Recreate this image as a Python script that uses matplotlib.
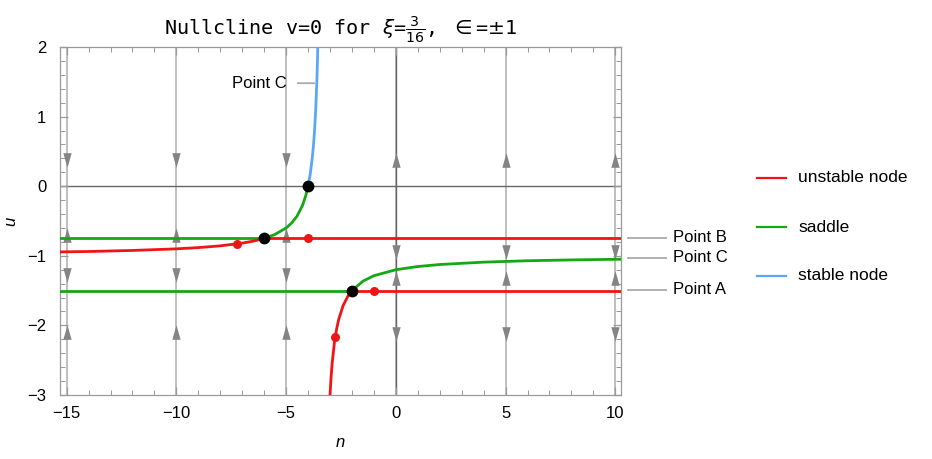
import matplotlib
matplotlib.use("Agg")
import matplotlib.pyplot as plt
from matplotlib.path import Path
from matplotlib.ticker import MultipleLocator

# nullcline branches (n, u)
left_n = [-15.3, -14, -12, -10, -9, -8, -7, -6.5, -6]
left_u = [-0.944, -0.938, -0.923, -0.900, -0.882, -0.857, -0.818, -0.789, -0.75]
mid_n = [-6, -5.5, -5, -4.75, -4.5, -4.25, -4.1, -4]
mid_u = [-0.75, -0.692, -0.600, -0.529, -0.429, -0.273, -0.130, 0.0]
top_n = [-4, -3.9, -3.8, -3.75, -3.7, -3.65, -3.6, -3.58, -3.556]
top_u = [0.0, 0.176, 0.429, 0.600, 0.818, 1.105, 1.500, 1.70, 2.0]
low_n = [-3.0, -2.95, -2.9, -2.8, -2.7, -2.6, -2.4, -2.2, -2.0]
low_u = [-3.0, -2.739, -2.538, -2.250, -2.053, -1.909, -1.714, -1.588, -1.5]
right_n = [-2, -1.5, -1, 0, 1, 2, 4, 6, 8, 10.3]
right_u = [-1.5, -1.364, -1.286, -1.2, -1.154, -1.125, -1.091, -1.071, -1.059, -1.049]

line_b = -0.75
line_a = -1.5
split_b = -6
split_a = -2

black_n = [-6, -4, -2]
black_u = [-0.75, 0, -1.5]
red_n = [-7.25, -4, -1, -2.76]
red_u = [-0.83, -0.75, -1.5, -2.16]

stream_n = [-15, -10, -5, 0, 5, 10]
arrows_left = [(0.37, -1), (-0.70, 1), (-1.28, -1), (-2.10, 1)]
arrows_right = [(0.37, 1), (-0.95, -1), (-1.32, 1), (-2.12, -1)]

RED = "#f01414"
GREEN = "#14a814"
BLUE = "#5aa8f5"
GREY = "#9a9a9a"

plt.rcParams["font.family"] = ["Liberation Sans", "DejaVu Sans"]

fig = plt.figure(figsize=(9.32, 4.59), dpi=100)
ax = fig.add_axes([0.0644, 0.1394, 0.6022, 0.7582])
xmin, xmax = -15.3, 10.27
ax.set_xlim(xmin, xmax)
ax.set_ylim(-3, 2)

down = Path([(-0.4, 0.7), (0.4, 0.7), (0, -0.7), (-0.4, 0.7)],
            [Path.MOVETO, Path.LINETO, Path.LINETO, Path.CLOSEPOLY])
up = Path([(-0.4, -0.7), (0.4, -0.7), (0, 0.7), (-0.4, -0.7)],
          [Path.MOVETO, Path.LINETO, Path.LINETO, Path.CLOSEPOLY])

for n in stream_n:
    ax.axvline(n, color="#adadad", lw=1.1, zorder=1)
    arrows = arrows_left if n < 0 else arrows_right
    for u, d in arrows:
        ax.plot([n], [u], marker=up if d > 0 else down, ms=10.5,
                color="#848484", mec="none", zorder=2)

ax.axhline(0, color="#666666", lw=1.0, zorder=1.5)
ax.axvline(0, color="#666666", lw=1.0, zorder=1.5)

lw = 2.0
ax.plot([xmin, split_b], [line_b, line_b], color=GREEN, lw=lw, zorder=3)
ax.plot([split_b, xmax], [line_b, line_b], color=RED, lw=lw, zorder=3)
ax.plot([xmin, split_a], [line_a, line_a], color=GREEN, lw=lw, zorder=3)
ax.plot([split_a, xmax], [line_a, line_a], color=RED, lw=lw, zorder=3)
ax.plot(left_n, left_u, color=RED, lw=lw, zorder=3)
ax.plot(mid_n, mid_u, color=GREEN, lw=lw, zorder=3)
ax.plot(top_n, top_u, color=BLUE, lw=lw, zorder=3)
ax.plot(low_n, low_u, color=RED, lw=lw, zorder=3)
ax.plot(right_n, right_u, color=GREEN, lw=lw, zorder=3)

ax.plot(red_n, red_u, "o", color=RED, ms=6.5, mec="none", zorder=4)
ax.plot(black_n, black_u, "o", color="black", ms=8.5, mec="none", zorder=5)

# frame and ticks
for s in ax.spines.values():
    s.set_color(GREY)
    s.set_linewidth(0.9)
ax.xaxis.set_minor_locator(MultipleLocator(1))
ax.yaxis.set_minor_locator(MultipleLocator(0.2))
ax.tick_params(which="both", direction="in", top=True, right=True,
               color=GREY, labelsize=12)
ax.tick_params(axis="x", pad=8)
ax.tick_params(axis="y", pad=10)
ax.tick_params(which="major", length=6, width=0.9)
ax.tick_params(which="minor", length=3.5, width=0.7)
ax.set_xticks([-15, -10, -5, 0, 5, 10])
ax.set_xticklabels(["\u221215", "\u221210", "\u22125", "0", "5", "10"])
ax.set_yticks([-3, -2, -1, 0, 1, 2])
ax.set_yticklabels(["\u22123", "\u22122", "\u22121", "0", "1", "2"])

ax.set_xlabel("n", fontstyle="italic", fontsize=12, labelpad=10)
ax.set_ylabel("u", fontstyle="italic", fontsize=12, labelpad=6)

ax.set_title(r"Nullcline v=0 for $\xi$=$\frac{3}{16}$, $\in$=$\pm$1",
             family="DejaVu Sans Mono", fontsize=14.5, pad=9)

# callouts on the right edge
label_y = {"Point B": 238, "Point C": 258, "Point A": 290}
for name, py in label_y.items():
    yf = 1 - py / 459
    fig.add_artist(plt.Line2D([628 / 932, 666 / 932], [yf, yf], color="#aaaaaa", lw=1.3))
    fig.text(673 / 932, yf, name, fontsize=12, va="center", ha="left")

ax.annotate("Point C", xy=(-3.72, 1.48), xytext=(-4.98, 1.48), fontsize=12,
            va="center", ha="right",
            arrowprops=dict(arrowstyle="-", color="#aaaaaa", lw=1.3,
                            shrinkA=6, shrinkB=0))

# legend
legend_items = [("unstable node", RED), ("saddle", GREEN), ("stable node", BLUE)]
for i, (name, c) in enumerate(legend_items):
    yf = 1 - (178 + 49 * i) / 459
    fig.add_artist(plt.Line2D([757 / 932, 786 / 932], [yf, yf], color=c, lw=1.6))
    fig.text(798 / 932, yf, name, fontsize=12.5, va="center", ha="left")

fig.savefig("out.png", dpi=100)
